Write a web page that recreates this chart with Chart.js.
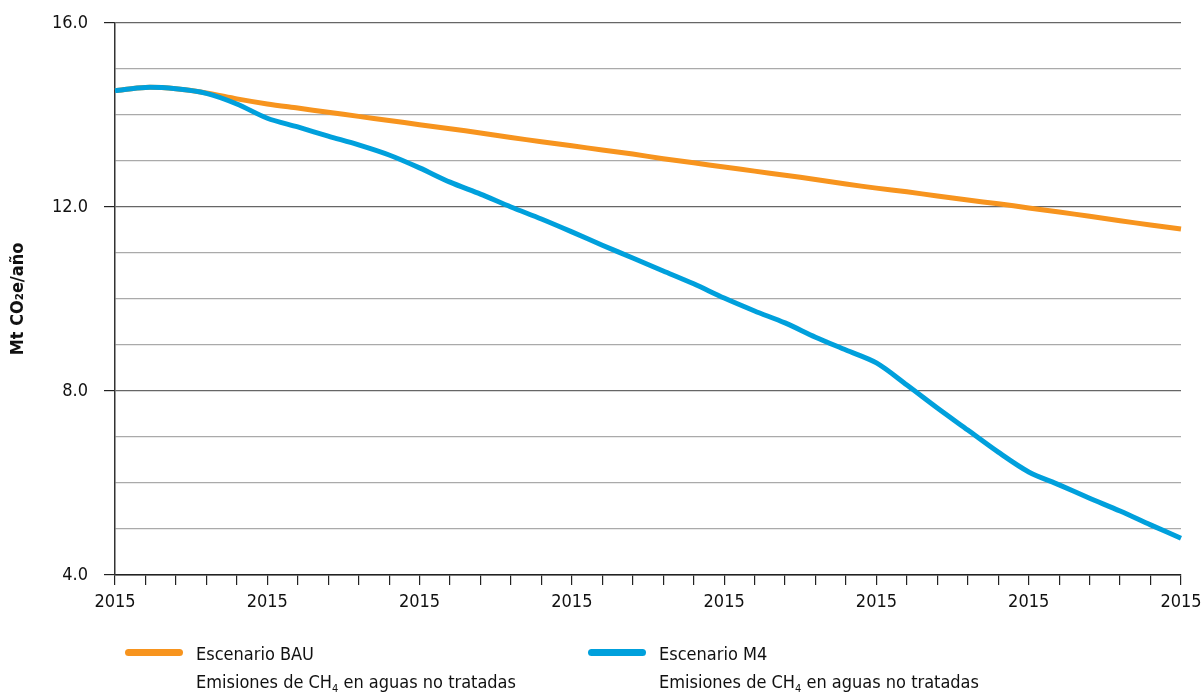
<!DOCTYPE html>
<html>
<head>
<meta charset="utf-8">
<script src="https://cdn.jsdelivr.net/npm/chart.js@4.4.1/dist/chart.umd.min.js"></script>
<style>
  html, body { margin: 0; padding: 0; background: #fff; }
  #wrap { position: relative; width: 1204px; height: 693px; }
  #chart { position: absolute; left: 0; top: 0; }
  .item { position: absolute; font-family: "Liberation Sans Narrow", "DejaVu Sans Condensed", "Open Sans", sans-serif; font-size: 18px; line-height: 28px; color: #111; white-space: nowrap; }
  .swatch { position: absolute; height: 7px; width: 58px; border-radius: 4px; }
  sub { font-size: 11px; line-height: 0; vertical-align: -4px; }
</style>
</head>
<body>
<div id="wrap">
  <canvas id="chart" width="1204" height="693"></canvas>
  <div class="swatch" style="left:125px; top:649px; background:#F7941E;"></div>
  <div class="item" style="left:196px; top:640px;">Escenario BAU<br>Emisiones de CH<sub>4</sub> en aguas no tratadas</div>
  <div class="swatch" style="left:588px; top:649px; background:#00A0DC;"></div>
  <div class="item" style="left:659px; top:640px;">Escenario M4<br>Emisiones de CH<sub>4</sub> en aguas no tratadas</div>
</div>
<script>
const FONT = '"Liberation Sans Narrow", "DejaVu Sans Condensed", "Open Sans", sans-serif';

const years = [];
for (let y = 2015; y <= 2050; ++y) {
    years.push(String(y));
}
// the original figure prints "2015" under every labelled tick
const xTickLabels = ['2015', '2015', '2015', '2015', '2015', '2015', '2015', '2015'];
const yTickLabels = ['4.0', '8.0', '12.0', '16.0'];

const bau = [14.53, 14.60, 14.57, 14.48, 14.35, 14.24, 14.15, 14.06, 13.97, 13.88,
             13.79, 13.70, 13.61, 13.51, 13.42, 13.33, 13.24, 13.15, 13.05, 12.96,
             12.87, 12.78, 12.69, 12.60, 12.50, 12.41, 12.33, 12.24, 12.15, 12.07,
             11.98, 11.89, 11.80, 11.70, 11.61, 11.52];
const m4 = [14.53, 14.60, 14.57, 14.47, 14.24, 13.93, 13.74, 13.54, 13.35, 13.13,
            12.85, 12.54, 12.28, 12.00, 11.74, 11.46, 11.17, 10.89, 10.61, 10.33,
            10.02, 9.74, 9.48, 9.17, 8.89, 8.61, 8.13, 7.63, 7.15, 6.67,
            6.24, 5.96, 5.67, 5.39, 5.09, 4.80];

const data = {
    labels: years,
    datasets: [
        {
            label: 'Escenario BAU',
            data: bau,
            borderColor: '#F7941E',
            borderWidth: 5,
            pointRadius: 0,
            tension: 0.3,
            order: 1
        }, {
            label: 'Escenario M4',
            data: m4,
            borderColor: '#00A0DC',
            borderWidth: 5,
            pointRadius: 0,
            tension: 0.3,
            order: 0
        }
    ]
};

var ctx = document.getElementById('chart').getContext('2d');

new Chart(ctx, {
    type: 'line',
    data: data,
    options: {
        responsive: false,
        animation: false,
        layout: { padding: { top: 23, right: 23, left: 0, bottom: 0 } },
        plugins: {
            legend: { display: false },
            tooltip: { enabled: false }
        },
        scales: {
            x: {
                offset: false,
                border: { color: '#222', width: 1.5 },
                grid: { drawOnChartArea: false, color: '#222', tickLength: 10, lineWidth: 1.2 },
                ticks: {
                    autoSkip: false,
                    maxRotation: 0,
                    padding: 7,
                    color: '#111',
                    font: { family: FONT, size: 18 },
                    callback: (v, i) => i % 5 === 0 ? xTickLabels[i / 5] : ''
                },
                afterFit: (scale) => {
                    scale.height = 118;
                    scale.paddingLeft = 0;
                    scale.paddingRight = 0;
                }
            },
            y: {
                min: 4,
                max: 16,
                border: { color: '#333', width: 1.5 },
                grid: {
                    color: (c) => c.tick && c.tick.value % 4 === 0 ? '#666' : '#aaa',
                    tickColor: (c) => c.tick && c.tick.value % 4 === 0 ? '#222' : 'rgba(0,0,0,0)',
                    tickLength: 11,
                    lineWidth: 1.2
                },
                ticks: {
                    stepSize: 1,
                    padding: 16,
                    color: '#111',
                    font: { family: FONT, size: 18 },
                    callback: (v) => v % 4 === 0 ? yTickLabels[(v - 4) / 4] : ''
                },
                title: {
                    display: true,
                    text: 'Mt CO₂e/año',
                    color: '#111',
                    padding: { top: 8, bottom: 0 },
                    font: { family: FONT, size: 18, weight: 'bold' }
                },
                afterFit: (scale) => {
                    scale.width = 115;
                    scale.paddingTop = 0;
                    scale.paddingBottom = 0;
                }
            }
        }
    }
});
</script>
</body>
</html>
